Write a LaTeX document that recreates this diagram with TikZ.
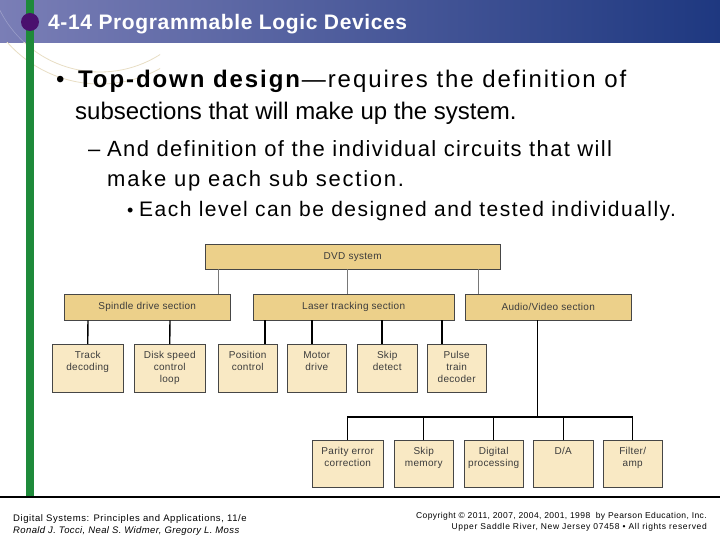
\documentclass[tikz,border=0pt]{standalone}
\usepackage{fontspec}
\setmainfont{Liberation Sans}
\usetikzlibrary{calc}
\definecolor{hdrL}{RGB}{122,126,182}
\definecolor{hdrR}{RGB}{30,56,128}
\definecolor{barG}{RGB}{30,138,58}
\definecolor{dotP}{RGB}{74,16,110}
\definecolor{gold}{RGB}{236,208,138}
\definecolor{cream}{RGB}{249,233,196}
\definecolor{boxline}{RGB}{70,70,70}
\definecolor{boxtext}{RGB}{60,60,60}
\definecolor{arcc}{RGB}{232,222,196}
\newcommand{\bt}[3]{\parbox[c][#2][t]{#1}{\centering\rule{0pt}{14.5pt}#3}}
\newcommand{\ls}[1]{\addfontfeatures{LetterSpace=#1}}
\tikzset{
  lvone/.style={draw=boxline, fill=gold, inner sep=0pt, anchor=north west, text=boxtext, font=\fontsize{10}{12}\selectfont\ls{3}},
  lvthree/.style={draw=boxline, fill=cream, inner sep=0pt, anchor=north west, text=boxtext, font=\fontsize{10}{12}\selectfont\ls{3}},
  gline/.style={draw={rgb,255:red,120;green,120;blue,120}, line width=1pt},
  bline/.style={draw=black, line width=1.4pt},
  bodytext/.style={anchor=base west, inner sep=0pt},
}
\begin{document}
\begin{tikzpicture}[x=1pt,y=-1pt]
\useasboundingbox (0,0) rectangle (720,540);
\fill[white] (0,0) rectangle (720,540);
% header
\shade[left color=hdrL, right color=hdrR] (0,0) rectangle (720,43);
% faint arcs
\begin{scope}
\clip (0,43) rectangle (160,90);
\draw[arcc, line width=0.8pt] (100,-40) circle (112);
\draw[arcc, line width=0.8pt] (100,-40) circle (124);
\end{scope}
\begin{scope}
\clip (0,0) rectangle (160,43);
\draw[white, opacity=0.25, line width=0.6pt] (100,-40) circle (112);
\end{scope}
% green bar and dot
\fill[barG] (26,0) rectangle (34,497);
\fill[dotP] (30,22) circle (9);
\node[anchor=base west, inner sep=0pt, text=white, font=\fontsize{21}{24}\selectfont\bfseries\ls{3}] (title) at (48,30) {4-14 Programmable Logic Devices};
% body text
\node[bodytext, font=\fontsize{24}{28}\selectfont] (b1) at (56,88) {•};
\node[bodytext, font=\fontsize{24}{28}\selectfont\ls{8}] (l1) at (78,88) {\textbf{Top-down design}—requires the definition of};
\node[bodytext, font=\fontsize{24}{28}\selectfont] (l2) at (75,120) {subsections that will make up the system.};
\node[bodytext, font=\fontsize{22}{25}\selectfont] (d2) at (88,157) {–};
\node[bodytext, font=\fontsize{22}{25}\selectfont\ls{6.2}] (l3) at (107,157) {And definition of the individual circuits that will};
\node[bodytext, font=\fontsize{22}{25}\selectfont\ls{8}] (l4) at (107,187) {make up each sub section.};
\node[bodytext, font=\fontsize{18}{22}\selectfont] (b3) at (127,217) {•};
\node[bodytext, font=\fontsize{21}{22}\selectfont\ls{7}] (l5) at (139,217) {Each level can be designed and tested individually.};
% level 1
\node[lvone, minimum width=295pt, minimum height=25pt, anchor=north west] (dvd) at (205,244) {DVD system};
% level 2
\node[lvone, minimum width=166pt, minimum height=26pt] (spin) at (64,294) {Spindle drive section};
\node[lvone, minimum width=201pt, minimum height=26pt] (laser) at (253,294) {Laser tracking section};
\node[lvone, minimum width=166pt, minimum height=26pt] (av) at (465,294) {Audio/Video section};
% level 3
\node[lvthree] (track) at (52,344) {\bt{71pt}{48pt}{Track\\decoding}};
\node[lvthree] (disk) at (134,344) {\bt{71pt}{48pt}{Disk speed\\control\\loop}};
\node[lvthree] (pos) at (218,344) {\bt{59pt}{48pt}{Position\\control}};
\node[lvthree] (motor) at (287,344) {\bt{59pt}{48pt}{Motor\\drive}};
\node[lvthree] (skipd) at (357,344) {\bt{60pt}{48pt}{Skip\\detect}};
\node[lvthree] (pulse) at (427,344) {\bt{59pt}{48pt}{Pulse\\train\\decoder}};
% level 4
\node[lvthree] (parity) at (312,440) {\bt{71pt}{47pt}{Parity error\\correction}};
\node[lvthree] (skipm) at (394,440) {\bt{59pt}{47pt}{Skip\\memory}};
\node[lvthree] (digi) at (464,440) {\bt{59pt}{47pt}{Digital\\processing}};
\node[lvthree] (da) at (533,440) {\bt{60pt}{47pt}{D/A}};
\node[lvthree] (filt) at (603,440) {\bt{59pt}{47pt}{Filter/\\amp}};
% x positions for connectors
\coordinate (xa) at (218,0);
\coordinate (xb) at (347,0);
\coordinate (xc) at (478,0);
\coordinate (xt) at (88,0);
\coordinate (xd) at (170,0);
\coordinate (xp) at (265,0);
\coordinate (xm) at (312,0);
\coordinate (xs) at (382,0);
\coordinate (xq) at (442,0);
\coordinate (xav) at (537,0);
\coordinate (bus) at (0,417);
% connectors
\draw[gline] (xa |- dvd.south) -- (xa |- spin.north);
\draw[gline] (xb |- dvd.south) -- (xb |- laser.north);
\draw[gline] (xc |- dvd.south) -- (xc |- av.north);
\draw[bline] (xt |- spin.south) -- (track.north);
\draw[bline] (xd |- spin.south) -- (disk.north);
\draw[bline] (xp |- laser.south) -- (xp |- pos.north);
\draw[bline] (xm |- laser.south) -- (xm |- motor.north);
\draw[bline] (xs |- laser.south) -- (xs |- skipd.north);
\draw[bline] (xq |- laser.south) -- (xq |- pulse.north);
\draw[black, line width=1pt] (xav |- av.south) -- (xav |- bus);
\draw[bline] (parity.north) |- (bus -| filt.north) -- (filt.north);
\draw[bline] (skipm.north) -- (skipm.north |- bus);
\draw[black, line width=1pt] (digi.north) -- (digi.north |- bus);
\draw[black, line width=1pt] (da.north) -- (da.north |- bus);
% footer
\draw[black, line width=2pt] (0,497) -- (720,497);
\node[anchor=base west, inner sep=0pt, font=\fontsize{9.5}{11}\selectfont\ls{6}] (f1) at (13,521) {Digital Systems: Principles and Applications, 11/e};
\node[anchor=base west, inner sep=0pt, font=\fontsize{9.5}{11}\selectfont\itshape\ls{4}] (f2) at (13,533) {Ronald J. Tocci, Neal S. Widmer, Gregory L. Moss};
\node[anchor=base east, inner sep=0pt, font=\fontsize{8.5}{10}\selectfont\ls{5}] (f3) at (707,518) {Copyright © 2011, 2007, 2004, 2001, 1998 \ by Pearson Education, Inc.};
\node[anchor=base east, inner sep=0pt, font=\fontsize{8.5}{10}\selectfont\ls{7.5}] (f4) at (707,529) {Upper Saddle River, New Jersey 07458 • All rights reserved};
\end{tikzpicture}
\end{document}
